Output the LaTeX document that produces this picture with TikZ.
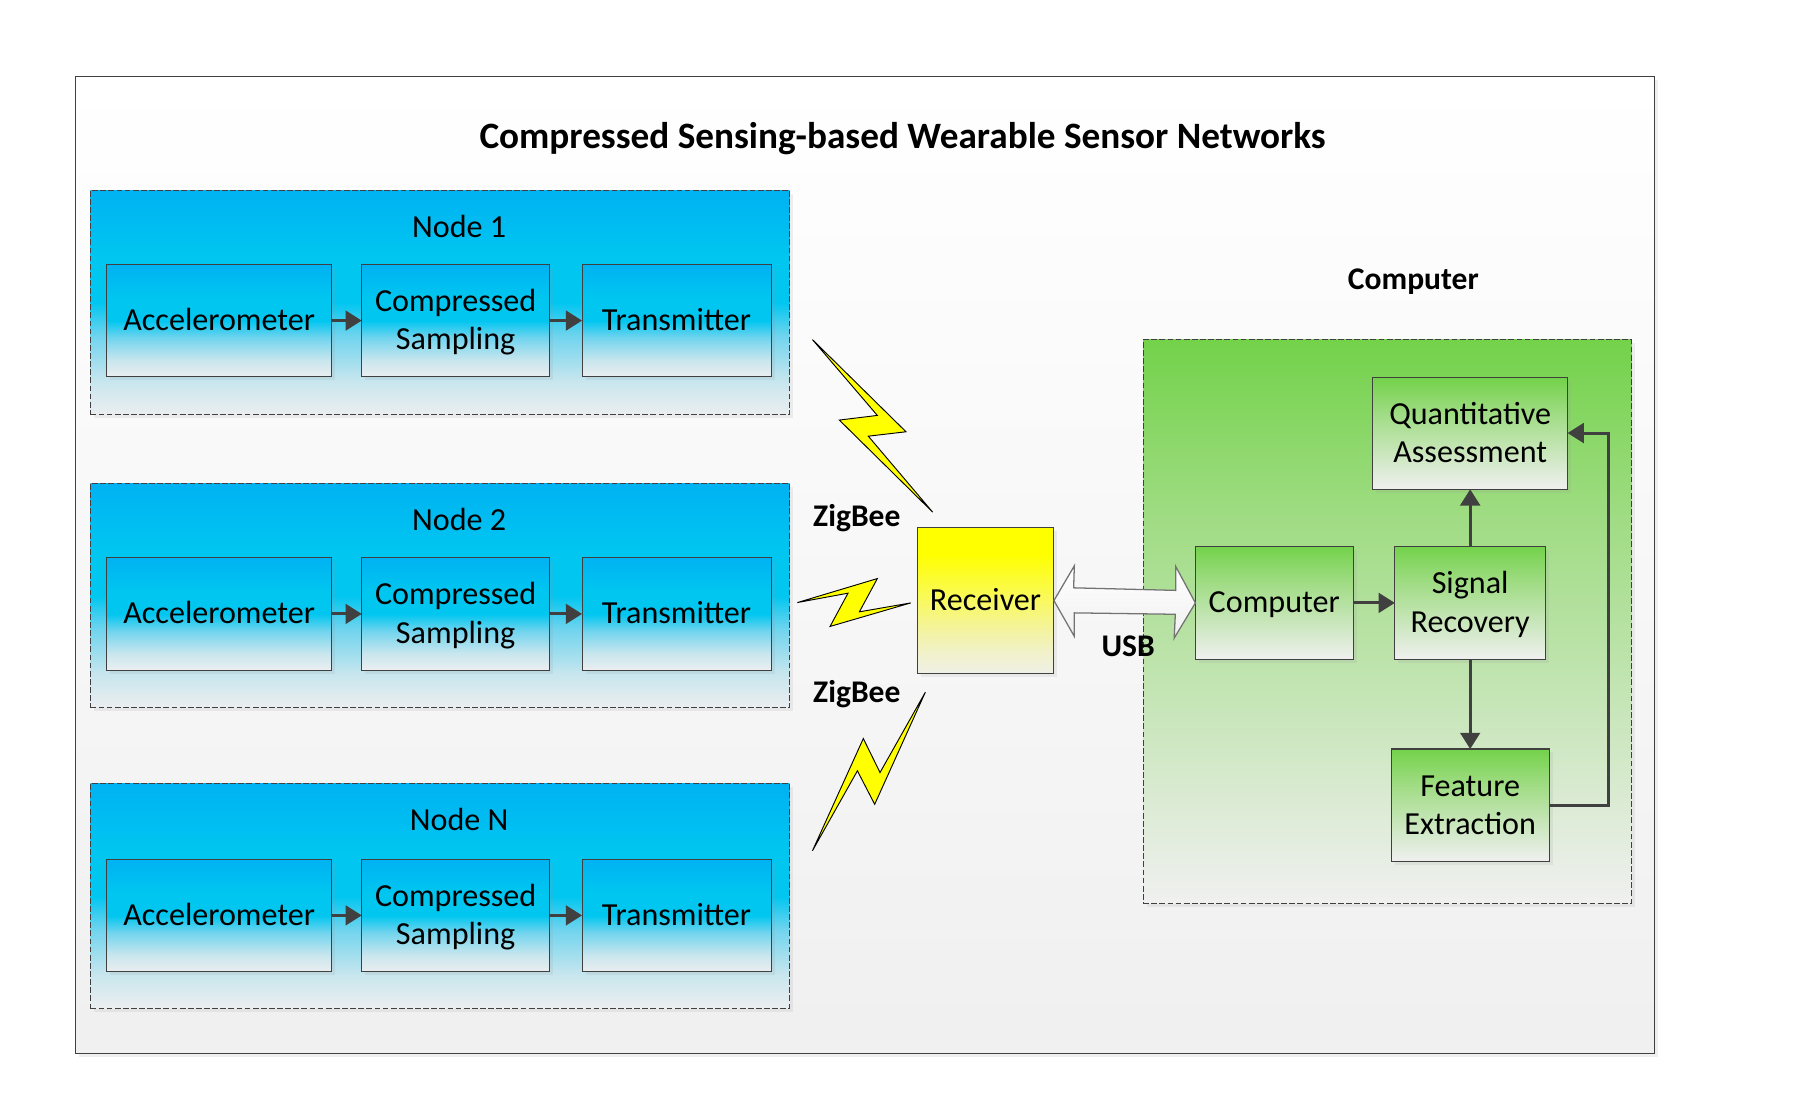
\documentclass[tikz,border=0pt]{standalone}
\usepackage{fontspec}
\setmainfont{Carlito}
\usetikzlibrary{arrows.meta,shadows}
\newcommand\tst{\rule[-7.9pt]{0pt}{33pt}}
\definecolor{ln}{HTML}{404040}
\pgfdeclareverticalshading{framesh}{100bp}{color(0bp)=(white!94!black); color(25bp)=(white!94!black); color(75bp)=(white); color(100bp)=(white)}
\definecolor{b1}{HTML}{00B2F2}\definecolor{b2}{HTML}{00C6F0}\definecolor{b3}{HTML}{EBEEF0}\definecolor{b4}{HTML}{70D4EE}\definecolor{b5}{HTML}{C8E6EE}
\definecolor{g1}{HTML}{73D24A}\definecolor{g2}{HTML}{A0DC84}\definecolor{g3}{HTML}{F0F0F0}
\definecolor{y1}{HTML}{FFFF00}\definecolor{y2}{HTML}{F0F0E6}\definecolor{y3}{HTML}{F9F960}\definecolor{y4}{HTML}{F3F3A0}\definecolor{y5}{HTML}{F1F1CC}
\pgfdeclareverticalshading{bluesh}{100bp}{color(0bp)=(b3); color(25bp)=(b3); color(32.5bp)=(b5); color(42.5bp)=(b4); color(50bp)=(b2); color(60bp)=(b2); color(75bp)=(b1); color(100bp)=(b1)}
\pgfdeclareverticalshading{greensh}{100bp}{color(0bp)=(g3); color(25bp)=(g3); color(59bp)=(g2); color(75bp)=(g1); color(100bp)=(g1)}
\pgfdeclareverticalshading{yellowsh}{100bp}{color(0bp)=(y2); color(25bp)=(y2); color(32bp)=(y5); color(40bp)=(y4); color(50bp)=(y3); color(66bp)=(y1); color(100bp)=(y1)}
\pgfdeclareverticalshading{usbsh}{100bp}{color(0bp)=(g3); color(25bp)=(g3); color(75bp)=(white); color(100bp)=(white)}
\tikzset{
  x=1pt,y=-1pt,
  shadowed/.style={drop shadow={shadow xshift=3pt,shadow yshift=-3pt,fill=black!40,opacity=.15}},
  base/.style={rectangle,inner sep=0pt,outer sep=0pt,align=center,text=black,font=\fontsize{27.7}{33}\selectfont},
  framebox/.style={base,shadowed,draw=ln,line width=.8pt,shading=framesh},
  bluegroup/.style={base,shadowed,draw=ln,line width=.8pt,dash pattern=on 5pt off 2pt,shading=bluesh},
  greengroup/.style={base,shadowed,draw=ln,line width=.8pt,dash pattern=on 5pt off 2pt,shading=greensh},
  bluebox/.style={base,shadowed,draw=ln,line width=.9pt,shading=bluesh},
  greenbox/.style={base,shadowed,draw=ln,line width=.9pt,shading=greensh},
  yellowbox/.style={base,shadowed,draw=ln,line width=.9pt,shading=yellowsh},
  lbl/.style={base},
  boldlbl/.style={base,font=\bfseries\fontsize{27.2}{33}\selectfont},
  conn/.style={draw=ln,line width=2.5pt,-{Triangle[length=14pt,width=17pt]}},
  bolt/.style={draw=black,line width=.8pt,fill=y1,line join=miter,miter limit=10},
  usb/.style={draw=black!55,line width=1.1pt,shading=usbsh,line join=miter,miter limit=10},
}
\begin{document}
\begin{tikzpicture}
\useasboundingbox (0,0) rectangle (1568,957);
\fill[white] (0,0) rectangle (1568,957);
\node[framebox,minimum width=1362pt,minimum height=843pt] (frame) at (746,487.5) {};
\node[boldlbl,font=\bfseries\fontsize{32.1}{38}\selectfont] (title) at (778.5,119.5) {Compressed Sensing-based Wearable Sensor Networks};

\foreach \n/\lab/\gy/\by in {1/Node 1/164/228,2/Node 2/417/481,N/Node N/676/741}{
  \node[bluegroup,minimum width=603pt,minimum height=193.5pt] (g\n) at (379.5,\gy+96.75) {};
  \node[lbl] (l\n) at (396,\gy+31) {\lab};
  \node[bluebox,minimum width=194pt,minimum height=97pt] (a\n) at (189,\by+48.5) {Accelerometer\tst};
  \node[bluebox,minimum width=162pt,minimum height=97pt] (c\n) at (393,\by+48.5) {Compressed\tst\\Sampling\tst};
  \node[bluebox,minimum width=163pt,minimum height=97pt] (t\n) at (583.5,\by+48.5) {Transmitter\tst};
  \draw[conn] (a\n) -- (c\n);
  \draw[conn] (c\n) -- (t\n);
}

\node[yellowbox,minimum width=118pt,minimum height=126pt] (recv) at (850,518) {Receiver\tst};

\node[greengroup,minimum width=421pt,minimum height=486pt] (green) at (1196.5,536) {};
\node[boldlbl] (ctitle) at (1219,243) {Computer};
\node[greenbox,minimum width=136pt,minimum height=98pt] (comp) at (1099,520) {Computer\tst};
\node[greenbox,minimum width=130pt,minimum height=98pt] (sig) at (1268,520) {Signal\tst\\Recovery\tst};
\node[greenbox,minimum width=168pt,minimum height=96pt] (quant) at (1268,374) {Quantitative\tst\\Assessment\tst};
\node[greenbox,minimum width=136pt,minimum height=97pt] (feat) at (1268,694.5) {Feature\tst\\Extraction\tst};

\draw[conn] (comp) -- (sig);
\draw[conn] (sig) -- (quant);
\draw[conn] (sig) -- (feat);
\coordinate (fbb) at (1387,694.5);
\coordinate (fbt) at (1387,373.5);
\draw[conn] (feat.east) -- (fbb) -- (fbt) -- (quant.east |- fbt);

\draw[bolt] (700.7,292.9) -- (781.4,372.4) -- (748.9,376.2) -- (804.4,441.7) -- (723.9,362.3) -- (756.7,358.3) -- cycle;
\draw[bolt] (687.7,519.7) -- (756.7,499) -- (741.2,527.7) -- (785.5,520) -- (715.9,540.3) -- (731.4,511.6) -- cycle;
\draw[bolt] (798.1,597) -- (759,666.3) -- (744.6,637) -- (700.7,733.8) -- (739.5,664.8) -- (754.4,693.7) -- cycle;

\draw[usb] (recv.east) -- ++(17.6,-30) -- ++(-.6,19) -- ++(88,2.2) -- ++(0,-20.7) -- (comp.west) -- ++(-18.3,30.4) -- ++(1,-20.6) -- ++(-87.1,-1.2) -- ++(0,20.3) -- cycle;

\node[boldlbl] (z1) at (739,447) {ZigBee};
\node[boldlbl] (z2) at (739,599) {ZigBee};
\node[boldlbl] (usblabel) at (973,557.5) {USB};
\end{tikzpicture}
\end{document}
